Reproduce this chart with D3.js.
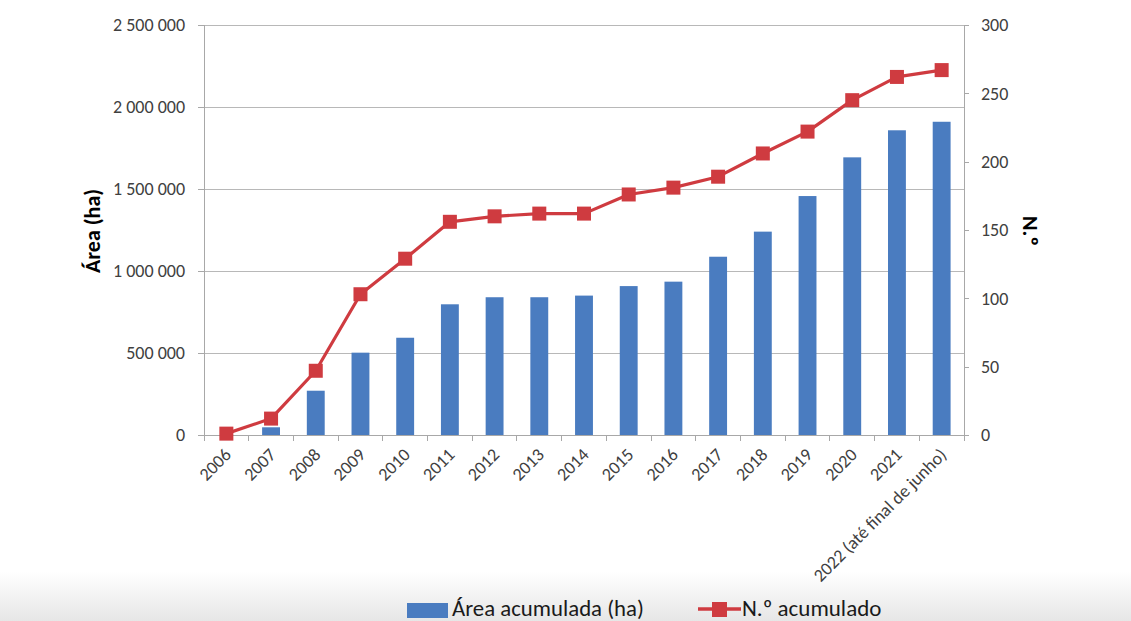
<!DOCTYPE html>
<html>
<head>
<meta charset="utf-8">
<script src="https://cdn.jsdelivr.net/npm/d3@7/dist/d3.min.js"></script>
<style>
  html, body { margin: 0; padding: 0; background: #fff; }
  svg { display: block; }
  text { font-family: Carlito, "Liberation Sans", Arial, sans-serif; }
</style>
</head>
<body>
<svg id="chart" width="1131" height="621"></svg>
<script>
const categories = ["2006","2007","2008","2009","2010","2011","2012","2013","2014","2015","2016","2017","2018","2019","2020","2021","2022 (até final de junho)"];
const areaAcumulada = [0, 47000, 270000, 502000, 593000, 797000, 840000, 840000, 850000, 908000, 935000, 1087000, 1240000, 1457000, 1693000, 1858000, 1910000];
const nAcumulado = [1, 12, 47, 103, 129, 156, 160, 162, 162, 176, 181, 189, 206, 222, 245, 262, 267];
const leftTicks = [0, 500000, 1000000, 1500000, 2000000, 2500000];
const rightTicks = [0, 50, 100, 150, 200, 250, 300];
const seriesNames = ["Área acumulada (ha)", "N.º acumulado"];
const leftTitle = "Área (ha)";
const rightTitle = "N.º";

const W = 1131, H = 621;
const L = 204, R = 964, T = 25, B = 435;
const barColor = "#4a7cc0", lineColor = "#cf3b40";
const gridColor = "#b8b8b8", axisColor = "#a8a8a8", tickText = "#404040";
const FF = 'Carlito, "Liberation Sans", Arial, sans-serif';

const svg = d3.select("#chart");

// bottom gradient band
const defs = svg.append("defs");
const grad = defs.append("linearGradient").attr("id","bg").attr("x1",0).attr("y1",0).attr("x2",0).attr("y2",1);
grad.append("stop").attr("offset","0%").attr("stop-color","#ffffff");
grad.append("stop").attr("offset","100%").attr("stop-color","#e6e6e6");
svg.append("rect").attr("x",0).attr("y",572).attr("width",W).attr("height",H-572).attr("fill","url(#bg)");

const x = d3.scaleBand().domain(categories).range([L, R]).padding(0);
const yL = d3.scaleLinear().domain([0, 2500000]).range([B, T]);
const yR = d3.scaleLinear().domain([0, 300]).range([B, T]);
const cx = c => x(c) + x.bandwidth() / 2;
const fmt = v => d3.format(",")(v).replace(/,/g, " ");

// gridlines
svg.append("g").selectAll("line").data(leftTicks.filter(d => d > 0)).join("line")
  .attr("x1", L).attr("x2", R).attr("y1", d => yL(d)).attr("y2", d => yL(d))
  .attr("stroke", gridColor).attr("stroke-width", 1).attr("shape-rendering","crispEdges");

// left axis
const axL = svg.append("g").attr("transform", `translate(${L},0)`)
  .call(d3.axisLeft(yL).tickValues(leftTicks).tickFormat(fmt).tickSize(6).tickPadding(13));
// right axis
const axR = svg.append("g").attr("transform", `translate(${R},0)`)
  .call(d3.axisRight(yR).tickValues(rightTicks).tickSize(5).tickPadding(12));
// bottom axis
const axB = svg.append("g").attr("transform", `translate(0,${B})`)
  .call(d3.axisBottom(x).tickSize(0).tickFormat(""));
[axL, axR, axB].forEach(g => {
  g.selectAll("path, line").attr("stroke", axisColor).attr("shape-rendering","crispEdges");
  g.selectAll("text").attr("fill", tickText).attr("font-size", 18).style("font-family", FF);
});
axB.select(".domain").attr("d", `M${L},0H${R}`);

// category boundary ticks below x axis
svg.append("g").selectAll("line").data(d3.range(categories.length + 1)).join("line")
  .attr("x1", i => L + i * x.step()).attr("x2", i => L + i * x.step())
  .attr("y1", B).attr("y2", B + 6)
  .attr("stroke", axisColor).attr("shape-rendering","crispEdges");

// x labels rotated
svg.append("g").selectAll("text").data(categories).join("text")
  .attr("transform", d => `translate(${cx(d) - 3},${B + 12}) rotate(-45)`)
  .attr("text-anchor", "end").attr("dy", "0.7em")
  .attr("font-size", 18).attr("fill", tickText)
  .text(d => d);

// bars
const bw = x.step() * 0.4;
svg.append("g").selectAll("rect").data(categories).join("rect")
  .attr("x", (d) => cx(d) - bw / 2)
  .attr("y", (d, i) => yL(areaAcumulada[i]))
  .attr("width", bw)
  .attr("height", (d, i) => B - yL(areaAcumulada[i]))
  .attr("fill", barColor);

// line
const line = d3.line().x((d, i) => cx(categories[i])).y(d => yR(d));
svg.append("path").datum(nAcumulado).attr("d", line)
  .attr("fill", "none").attr("stroke", lineColor).attr("stroke-width", 3.2).attr("stroke-linejoin","round");
const ms = 14;
svg.append("g").selectAll("rect").data(nAcumulado).join("rect")
  .attr("x", (d, i) => cx(categories[i]) - ms / 2)
  .attr("y", d => yR(d) - ms / 2)
  .attr("width", ms).attr("height", ms)
  .attr("fill", lineColor);

// axis titles
svg.append("text").attr("transform", `translate(100,231) rotate(-90)`)
  .attr("text-anchor", "middle").attr("font-size", 22).attr("font-weight", "bold").attr("fill", "#000")
  .text(leftTitle);
svg.append("text").attr("transform", `translate(1023,231) rotate(90)`)
  .attr("text-anchor", "middle").attr("font-size", 22).attr("font-weight", "bold").attr("fill", "#000")
  .text(rightTitle);

// legend
const lg = svg.append("g");
lg.append("rect").attr("x", 407).attr("y", 603).attr("width", 41).attr("height", 15).attr("fill", barColor);
lg.append("text").attr("x", 452).attr("y", 615.5).attr("font-size", 22.8).attr("fill", "#1a1a1a").text(seriesNames[0]);
lg.append("line").attr("x1", 698).attr("x2", 741).attr("y1", 609).attr("y2", 609).attr("stroke", lineColor).attr("stroke-width", 3.5);
lg.append("rect").attr("x", 712).attr("y", 602).attr("width", 15).attr("height", 15).attr("fill", lineColor);
lg.append("text").attr("x", 742).attr("y", 615.5).attr("font-size", 23).attr("fill", "#1a1a1a").text(seriesNames[1]);
</script>
</body>
</html>
